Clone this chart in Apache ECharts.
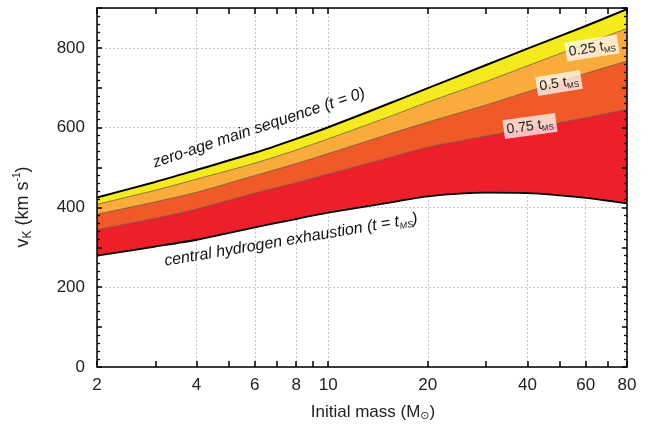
<!DOCTYPE html>
<html><head><meta charset="utf-8">
<script src="https://cdn.jsdelivr.net/npm/echarts@6/dist/echarts.min.js"></script>
<style>html,body{margin:0;padding:0;background:#fff}#c{width:650px;height:433px}</style>
</head><body><div id="c"></div>
<script>
// Initial masses (M_sun) at which curves were read
const masses = [2, 3, 4, 6, 8, 10, 15, 20, 30, 40, 60, 80];
// Keplerian velocity v_K (km/s)
const zams = [425, 464, 494, 537, 572, 601, 658, 699, 757, 798, 855, 897];
const q25  = [408, 443, 471, 511, 544, 572, 625, 664, 716, 755, 810, 849];
const q50  = [383, 414, 438, 480, 510, 535, 582, 614, 657, 690, 736, 767];
const q75  = [344, 373, 396, 436, 462, 484, 523, 551, 579, 598, 625, 646];
const tams = [279, 302, 319, 350, 371, 387, 411, 428, 437, 436, 424, 410];

const xMajorTicks = [2, 4, 6, 8, 10, 20, 40, 60, 80];
const xAllTicks = [2, 3, 4, 5, 6, 7, 8, 9, 10, 20, 30, 40, 50, 60, 70, 80];

const FONT = 'Liberation Sans, Arial, Helvetica, sans-serif';
const chart = echarts.init(document.getElementById('c'), null, {renderer: 'canvas'});

function band(upper, lower) {
  return masses.map((m, i) => [lower ? upper[i] - lower[i] : upper[i], m]);
}
const ink = () => ({color: '#000', width: 1.5});
const thin = () => ({color: '#000', width: 1.3});
const grid = () => ({color: '#c6c6c6', type: [2, 2], width: 1});
const labelStyle = {color: '#222', fontSize: 17, fontFamily: FONT};

function bandSeries(name, data, color, lineColor, lineWidth, area) {
  const s = {
    name, type: 'line', stack: 'v', data, smooth: 0.25, symbol: 'none',
    encode: {x: 1, y: 0}, xAxisIndex: 0, yAxisIndex: 0, z: 2,
    lineStyle: {color: lineColor, width: lineWidth},
    silent: true, animation: false
  };
  if (area) s.areaStyle = {color: color, opacity: 1};
  return s;
}

const option = {
  animation: false,
  grid: {left: 97, right: 23, top: 8, bottom: 66, containLabel: false},
  xAxis: [
    {type: 'log', logBase: 10, min: 2, max: 80, position: 'bottom', z: 10,
      axisLine: {show: true, onZero: false, lineStyle: ink()},
      axisTick: {show: true, inside: true, length: 6, customValues: xAllTicks, lineStyle: ink()},
      axisLabel: {show: true, customValues: xMajorTicks, margin: 10, ...labelStyle},
      splitLine: {show: false}, minorTick: {show: false}},
    {type: 'log', logBase: 10, min: 2, max: 80, position: 'bottom', z: 0,
      axisLine: {show: false, onZero: false},
      axisTick: {show: false, customValues: xMajorTicks},
      axisLabel: {show: false, customValues: xMajorTicks},
      splitLine: {show: true, lineStyle: grid()}},
    {type: 'log', logBase: 10, min: 2, max: 80, position: 'top', z: 10,
      axisLine: {show: true, onZero: false, lineStyle: ink()},
      axisTick: {show: true, inside: true, length: 6, customValues: xAllTicks, lineStyle: ink()},
      axisLabel: {show: false}, splitLine: {show: false}}
  ],
  yAxis: [
    {type: 'value', min: 0, max: 900, interval: 200, position: 'left', z: 10,
      axisLine: {show: true, onZero: false, lineStyle: ink()},
      axisTick: {show: false},
      axisLabel: {show: true, showMaxLabel: false, margin: 12, ...labelStyle},
      splitLine: {show: false}},
    {type: 'value', min: 0, max: 900, interval: 100, position: 'left', z: 10,
      axisLine: {show: false, onZero: false},
      axisTick: {show: true, inside: true, length: 5, lineStyle: ink()},
      minorTick: {show: true, splitNumber: 5, length: 3, lineStyle: thin()},
      axisLabel: {show: false}, splitLine: {show: false}},
    {type: 'value', min: 0, max: 900, interval: 100, position: 'right', z: 10,
      axisLine: {show: true, onZero: false, lineStyle: ink()},
      axisTick: {show: true, inside: true, length: 5, lineStyle: ink()},
      minorTick: {show: true, splitNumber: 5, length: 3, lineStyle: thin()},
      axisLabel: {show: false}, splitLine: {show: false}},
    {type: 'value', min: 0, max: 900, interval: 200, position: 'left', z: 0,
      axisLine: {show: false, onZero: false}, axisTick: {show: false},
      axisLabel: {show: false}, splitLine: {show: true, lineStyle: grid()}}
  ],
  series: [
    bandSeries('tams', band(tams), null, '#000', 1.8, false),
    bandSeries('0.75', band(q75, tams), '#EC1F2A', '#5a4a40', 0.7, true),
    bandSeries('0.5', band(q50, q75), '#F05A29', '#5a4a40', 0.7, true),
    bandSeries('0.25', band(q25, q50), '#F9AC3B', '#5a4a40', 0.7, true),
    bandSeries('zams', band(zams, q25), '#F4EA1E', '#000', 2, true)
  ],
  graphic: [
    {type: 'text', x: 259, y: 128, rotation: 0.322, z: 100,
      style: {text: 'zero-age main sequence (t = 0)', font: 'italic 16px ' + FONT, fill: '#111',
        align: 'center', verticalAlign: 'middle'}},
    {type: 'text', x: 291, y: 240, rotation: 0.168, z: 100,
      style: {text: '{a|central hydrogen exhaustion (t = t}{s|MS}{a|)}', align: 'center', verticalAlign: 'middle',
        rich: {a: {fontSize: 16, fontStyle: 'italic', fontFamily: FONT, fill: '#111', lineHeight: 19},
               s: {fontSize: 9, fontStyle: 'italic', fontFamily: FONT, fill: '#111', lineHeight: 12, verticalAlign: 'bottom'}}}},
    {type: 'text', x: 592, y: 48, rotation: 0.16, z: 100,
      style: {text: '{a|0.25 t}{s|MS}', align: 'center', verticalAlign: 'middle',
        backgroundColor: 'rgba(255,255,255,0.72)', padding: [2, 3, 1, 3],
        rich: {a: {fontSize: 14, fontFamily: FONT, fill: '#222', lineHeight: 16},
               s: {fontSize: 8, fontFamily: FONT, fill: '#222', lineHeight: 10, verticalAlign: 'bottom'}}}},
    {type: 'text', x: 559, y: 83, rotation: 0.16, z: 100,
      style: {text: '{a|0.5 t}{s|MS}', align: 'center', verticalAlign: 'middle',
        backgroundColor: 'rgba(255,255,255,0.72)', padding: [2, 3, 1, 3],
        rich: {a: {fontSize: 14, fontFamily: FONT, fill: '#222', lineHeight: 16},
               s: {fontSize: 8, fontFamily: FONT, fill: '#222', lineHeight: 10, verticalAlign: 'bottom'}}}},
    {type: 'text', x: 530, y: 126, rotation: 0.14, z: 100,
      style: {text: '{a|0.75 t}{s|MS}', align: 'center', verticalAlign: 'middle',
        backgroundColor: 'rgba(255,255,255,0.72)', padding: [2, 3, 1, 3],
        rich: {a: {fontSize: 14, fontFamily: FONT, fill: '#222', lineHeight: 16},
               s: {fontSize: 8, fontFamily: FONT, fill: '#222', lineHeight: 10, verticalAlign: 'bottom'}}}},
    {type: 'text', x: 373, y: 412, z: 100,
      style: {text: '{a|Initial mass (M}{s|⊙}{a|)}', align: 'center', verticalAlign: 'middle',
        rich: {a: {fontSize: 17, fontFamily: FONT, fill: '#222', lineHeight: 20},
               s: {fontSize: 11, fontFamily: 'DejaVu Sans', fill: '#222', lineHeight: 12, verticalAlign: 'bottom'}}}},
    {type: 'text', x: 23, y: 207, rotation: Math.PI / 2, z: 100,
      style: {text: '{a|v}{s|K}{a| (km s}{p|-1}{a|)}', align: 'center', verticalAlign: 'middle',
        rich: {a: {fontSize: 18, fontFamily: FONT, fill: '#222', lineHeight: 22},
               s: {fontSize: 12, fontFamily: FONT, fill: '#222', lineHeight: 13, verticalAlign: 'bottom'},
               p: {fontSize: 10, fontFamily: FONT, fill: '#222', lineHeight: 12, verticalAlign: 'top'}}}}
  ]
};
chart.setOption(option);
</script>
</body></html>
